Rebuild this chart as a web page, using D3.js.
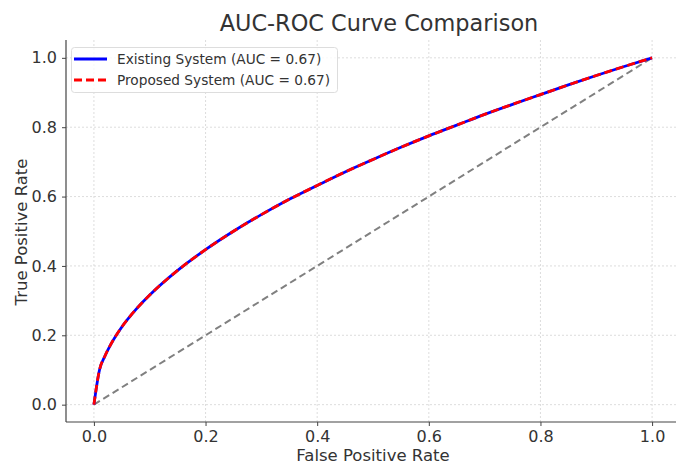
<!DOCTYPE html>
<html>
<head>
<meta charset="utf-8">
<script src="https://cdn.jsdelivr.net/npm/d3@7"></script>
<style>
  body { margin: 0; background: #fff; }
  svg text { font-family: "DejaVu Sans", sans-serif; fill: #333; }
</style>
</head>
<body>
<svg id="chart" width="676" height="464"></svg>
<script>
// values
const fpr = [0, 0.01, 0.02, 0.03, 0.05, 0.075, 0.1, 0.15, 0.2, 0.25, 0.3, 0.35, 0.4, 0.45, 0.5, 0.55, 0.6, 0.65, 0.7, 0.75, 0.8, 0.85, 0.9, 0.95, 1];
const tprExisting = [0, 0.100, 0.141, 0.173, 0.224, 0.274, 0.316, 0.387, 0.447, 0.500, 0.548, 0.592, 0.632, 0.671, 0.707, 0.742, 0.775, 0.806, 0.837, 0.866, 0.894, 0.922, 0.949, 0.975, 1];
const tprProposed = [0, 0.100, 0.141, 0.173, 0.224, 0.274, 0.316, 0.387, 0.447, 0.500, 0.548, 0.592, 0.632, 0.671, 0.707, 0.742, 0.775, 0.806, 0.837, 0.866, 0.894, 0.922, 0.949, 0.975, 1];
const chance = [[0, 0], [1, 1]];
const ticks = [0, 0.2, 0.4, 0.6, 0.8, 1.0];
const legendLabels = ['Existing System (AUC = 0.67)', 'Proposed System (AUC = 0.67)'];

const svg = d3.select('#chart');

const plotLeft = 66, plotBottom = 422, plotTop = 40;

const x = d3.scaleLinear()
    .domain([-0.05, 1.05])
    .range([plotLeft, 680]);

const y = d3.scaleLinear()
    .domain([-0.05, 1.05])
    .range([plotBottom, plotTop + 0.5]);

// grid
const grid = svg.append('g');
ticks.forEach(function (t) {
    grid.append('line')
        .attr('x1', x(t)).attr('x2', x(t))
        .attr('y1', plotTop).attr('y2', plotBottom)
        .attr('stroke', '#d4d4d4').attr('stroke-width', 0.8)
        .attr('stroke-dasharray', '2,2');
    grid.append('line')
        .attr('x1', plotLeft).attr('x2', 676)
        .attr('y1', y(t)).attr('y2', y(t))
        .attr('stroke', '#d4d4d4').attr('stroke-width', 0.8)
        .attr('stroke-dasharray', '2,2');
});

// axes
const xAxis = svg.append('g')
    .attr('transform', 'translate(0,' + plotBottom + ')')
    .call(d3.axisBottom(x).tickValues(ticks).tickFormat(d3.format('.1f')).tickSize(4).tickPadding(5));

const yAxis = svg.append('g')
    .attr('transform', 'translate(' + plotLeft + ',0)')
    .call(d3.axisLeft(y).tickValues(ticks).tickFormat(d3.format('.1f')).tickSize(4).tickPadding(5));

[xAxis, yAxis].forEach(function (a) {
    a.select('.domain').remove();
    a.selectAll('.tick line').attr('stroke', '#444');
    a.selectAll('.tick text').style('font-size', '16px').attr('fill', '#333');
});

svg.append('line')
    .attr('x1', plotLeft).attr('x2', plotLeft)
    .attr('y1', plotTop).attr('y2', plotBottom)
    .attr('stroke', '#444').attr('stroke-width', 1.2);
svg.append('line')
    .attr('x1', plotLeft).attr('x2', 676)
    .attr('y1', plotBottom).attr('y2', plotBottom)
    .attr('stroke', '#444').attr('stroke-width', 1.2);

// lines
const line = d3.line()
    .x(d => x(d[0]))
    .y(d => y(d[1]))
    .curve(d3.curveMonotoneX);

svg.append('path')
    .datum(chance)
    .attr('d', line)
    .attr('fill', 'none')
    .attr('stroke', '#808080')
    .attr('stroke-width', 2)
    .attr('stroke-dasharray', '7,4');

svg.append('path')
    .datum(fpr.map((f, i) => [f, tprExisting[i]]))
    .attr('d', line)
    .attr('fill', 'none')
    .attr('stroke', '#0000ff')
    .attr('stroke-width', 2.8);

svg.append('path')
    .datum(fpr.map((f, i) => [f, tprProposed[i]]))
    .attr('d', line)
    .attr('fill', 'none')
    .attr('stroke', '#ff0000')
    .attr('stroke-width', 2.8)
    .attr('stroke-dasharray', '8,4');

// legend
const legend = svg.append('g');
legend.append('rect')
    .attr('x', 71.5).attr('y', 47.5)
    .attr('width', 266).attr('height', 45)
    .attr('rx', 3)
    .attr('fill', '#fff').attr('fill-opacity', 0.8)
    .attr('stroke', '#ddd');

const legendStyles = [
    { color: '#0000ff', dash: null },
    { color: '#ff0000', dash: '8,4' }
];

legendLabels.forEach(function (label, i) {
    const ly = 59 + i * 21;
    legend.append('line')
        .attr('x1', 74).attr('x2', 107)
        .attr('y1', ly).attr('y2', ly)
        .attr('stroke', legendStyles[i].color)
        .attr('stroke-width', 2.8)
        .attr('stroke-dasharray', legendStyles[i].dash);
    legend.append('text')
        .attr('x', 117).attr('y', ly + 5)
        .style('font-size', '13.7px')
        .text(label);
});

// titles
svg.append('text')
    .attr('x', 379).attr('y', 31)
    .attr('text-anchor', 'middle')
    .style('font-size', '22.4px')
    .text('AUC-ROC Curve Comparison');

svg.append('text')
    .attr('x', 373).attr('y', 461)
    .attr('text-anchor', 'middle')
    .style('font-size', '16.5px')
    .text('False Positive Rate');

svg.append('text')
    .attr('transform', 'translate(27,232) rotate(-90)')
    .attr('text-anchor', 'middle')
    .style('font-size', '16.5px')
    .text('True Positive Rate');
</script>
</body>
</html>
